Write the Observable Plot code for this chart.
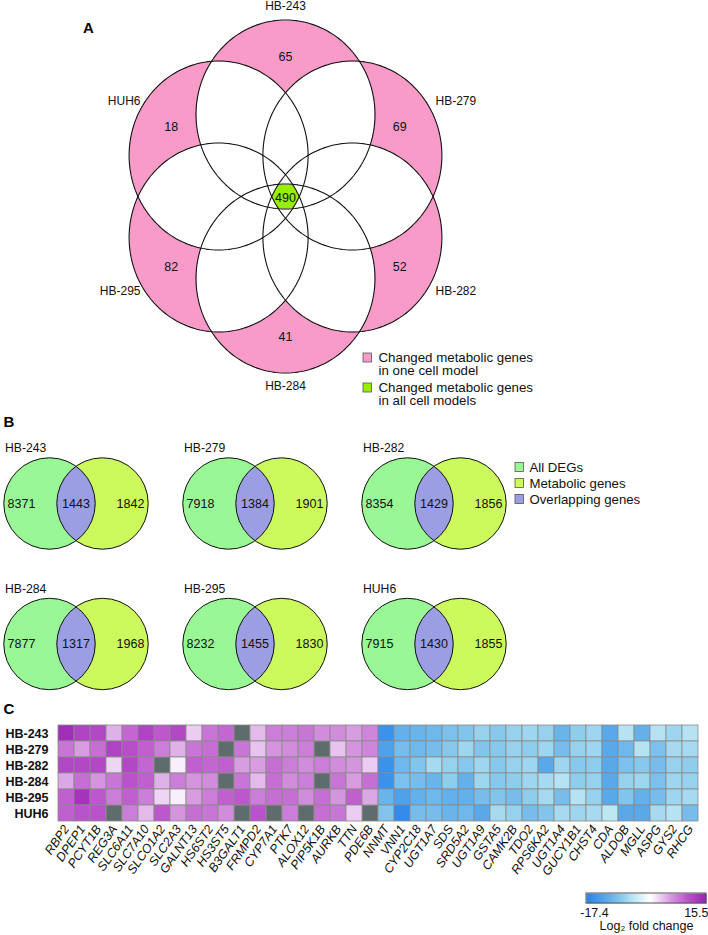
<!DOCTYPE html>
<html><head><meta charset="utf-8">
<script src="https://cdn.jsdelivr.net/npm/d3@7"></script>
<script src="https://cdn.jsdelivr.net/npm/@observablehq/plot@0.6"></script>
<style>
body{margin:0;background:#fff;}
#wrap{position:relative;width:708px;height:935px;overflow:hidden;background:#fff;}
#wrap > div{position:absolute;left:0;}
</style></head><body><div id="wrap"></div>
<script>
// ---------- DATA ----------
// Panel A: six-set Venn, models clockwise from top
const vennModels = ["HB-243", "HB-279", "HB-282", "HB-284", "HB-295", "HUH6"];
const uniqueCounts = [65, 69, 52, 41, 82, 18];
const sharedCount = 490;
const legendALabels = ["Changed metabolic genes\nin one cell model", "Changed metabolic genes\nin all cell models"];

// Panel B: two-set Venns per model
const bModels = ["HB-243", "HB-279", "HB-282", "HB-284", "HB-295", "HUH6"];
const degOnly = [8371, 7918, 8354, 7877, 8232, 7915];
const overlapCounts = [1443, 1384, 1429, 1317, 1455, 1430];
const metOnly = [1842, 1901, 1856, 1968, 1830, 1855];
const legendBLabels = ["All DEGs", "Metabolic genes", "Overlapping genes"];

// Panel C: heatmap of log2 fold change (null = not available)
const genes = ["RBP2","DPEP1","PCYT1B","REG3A","SLC6A11","SLC7A10","SLCO1A2","SLC2A3","GALNT13","HS6ST2",
  "HS3ST5","B3GALT1","FRMPD2","CYP7A1","PTK7","ALOX12","PIP5K1B","AURKB","TTN","PDE6B",
  "NNMT","VNN1","CYP2C18","UGT1A7","SDS","SRD5A2","UGT1A9","GSTA5","CAMK2B","TDO2",
  "RPS6KA2","UGT1A4","GUCY1B1","CHST4","CDA","ALDOB","MGLL","ASPG","GYS2","RHCG"];
const heatModels = ["HB-243", "HB-279", "HB-282", "HB-284", "HB-295", "HUH6"];
const fcHB243 = [14, 12, 11.5, 4.5, 9, 12, 10, 11.5, 3, 8, 9, null, 4, 7.5, 7.5, 8, 6.5, 6.5, 5.5, 7,
  -15.5, -11, -10.5, -10, -9, -8.5, -7, -8, -7, -6.5, -7, -10.5, -7.5, -6.5, -12, -5, -11, -5, -6.5, -5];
const fcHB279 = [8, 5.5, 8.5, 12, 11, 9.5, 7.5, 4.5, 8, 8.5, null, 8, 3.5, 6, 6.5, 7.5, null, 3.5, 6, 7,
  -13, -9.5, -10, -9.5, -8, -6.5, -8.5, -8, -7, -7.5, -6.5, -9.5, -7, -6.5, -12, -10, -5, -9, -6, -6];
const fcHB282 = [11.5, 11.5, 11.5, 2.5, 11.5, 9, null, 1, 9.5, 9, 9.5, 5.5, 5.5, 8.5, 7.5, 6.5, 7.5, 6.5, 6, 3,
  -15.5, -10, -8.5, -6, -7, -8, -6.5, -8, -7, -6.5, -12, -6.5, -8, -7.5, -12, -9, -8, -9.5, -7, -7.5];
const fcHB284 = [5, 8.5, 6, 8, 10.5, 9.5, 4.5, 7.5, 6, 6.5, null, 8, 4, 8.5, 6.5, 7.5, null, 8, 5.5, 8.5,
  -15.5, -9, -9.5, -10.5, -7.5, -11, -6.5, -8, -7.5, -6.5, -6, -5, -7.5, -7, -12, -7, -6.5, -9, -6.5, -7];
const fcHB295 = [9.5, 13.5, 10, 7.5, 9.5, 7.5, 2.5, 1, 5.5, 7.5, 9.5, 10, 7.5, 8.5, 8.5, 6.5, 8.5, 6, 9.5, 5,
  -10.5, -13, -11, -10, -11, -11, -9.5, -8.5, -9.5, -7.5, -6, -9.5, -5, -7, -12, -8.5, -11, -9.5, -6.5, -6];
const fcHUH6 = [9.5, 10.5, 10.5, null, 7.5, 4, 10, 6, 8.5, 8, 6.5, null, 10.5, null, 7.5, null, 8.5, 8, 3, null,
  -8.5, -16.5, -9.5, -9.5, -10.5, -10, -12, -6, -7, -9.5, -8.5, -6, -6.5, -6, -4.5, -12, -12, -6, -5, -9.5];
const log2fc = [fcHB243, fcHB279, fcHB282, fcHB284, fcHB295, fcHUH6];
const colorMin = -17.4, colorMax = 15.5;
const colorbarLabel = "Log\u2082 fold change";

// ---------- STYLE / LAYOUT ----------
const FONT = "'Liberation Sans', Arial, Helvetica, sans-serif";
const PINK = "#f99bc9", LIME = "#97ef00";
const BGREEN = "#9af795", BYELLOW = "#ccfa5c", BPURPLE = "#9b9ee2";
const NA_FILL = "#5f6c6c", CELL_STROKE = "#8a8a8a";
const colorScale = {
  type: "linear",
  domain: [colorMin, -12, -8, -4.5, 0, 3, 6, 10, colorMax],
  range: ["#2c84ea", "#5aa8e8", "#88c8ec", "#bce8f4", "#ffffff", "#ecccf2", "#d494de", "#bc58cc", "#9620b0"],
  interpolate: "rgb"
};

const wrap = document.getElementById("wrap");
function place(svg, top) { const d = document.createElement("div"); d.style.top = top + "px"; d.appendChild(svg); wrap.appendChild(d); }

// geometry of panel A flower (ellipses)
const cx0 = 285, cy0 = 196, dA = 82, kx = 0.942, rxA = 89.5, ryA = 94.5;
const ang = i => (-90 + 60 * i) * Math.PI / 180;
const circA = vennModels.map((m, i) => ({x: cx0 + dA * kx * Math.cos(ang(i)), y: cy0 + dA * Math.sin(ang(i))}));
const outlineA = circA.flatMap((c, i) => d3.range(0, 181).map(k => {
  const t = k / 180 * 2 * Math.PI; return {i, x: c.x + rxA * Math.cos(t), y: c.y + ryA * Math.sin(t)};
}));
// geometry of panel B
const rB = 45.7;
const vB = bModels.map((m, i) => { const col = i % 3, row = Math.floor(i / 3); const xl = 49 + 179 * col; return {xl, xr: xl + 53, y: 503 + 140.5 * row, col}; });
const circB = vB.flatMap(v => [{x: v.xl, y: v.y}, {x: v.xr, y: v.y}]);

function regionFill(x, y) {
  if (y < 420) {
    let n = 0;
    for (const c of circA) if (((x - c.x) / rxA) ** 2 + ((y - c.y) / ryA) ** 2 <= 1) n++;
    return n === 1 ? PINK : n === 6 ? LIME : "white";
  }
  for (const v of vB) {
    const inL = (x - v.xl) ** 2 + (y - v.y) ** 2 <= rB * rB;
    const inR = (x - v.xr) ** 2 + (y - v.y) ** 2 <= rB * rB;
    if (inL && inR) return BPURPLE;
    if (inL) return BGREEN;
    if (inR) return BYELLOW;
  }
  return "white";
}

const labA = vennModels.map((m, i) => ({m, c: Math.cos(ang(i)), s: Math.sin(ang(i))}));
const txt = {fontFamily: FONT, fontSize: 12.5, fill: "#111"};

const plotAB = Plot.plot({
  width: 708, height: 720, margin: 0,
  x: {domain: [0, 708], range: [0, 708], axis: null},
  y: {domain: [0, 720], range: [0, 720], axis: null},
  color: {type: "identity"},
  style: {background: "transparent", fontFamily: FONT},
  marks: [
    Plot.raster({x1: 0, x2: 708, y1: 0, y2: 720, width: 708, height: 720, fill: regionFill}),
    Plot.line(outlineA, {x: "x", y: "y", z: "i", stroke: "#111", strokeWidth: 1.1}),
    Plot.dot(circB, {x: "x", y: "y", r: rB, stroke: "#111", strokeWidth: 1, fill: "none"}),
    // panel letters
    Plot.text(["A"], {x: 88, y: 28, text: d => d, fontFamily: FONT, fontSize: 15, fontWeight: "bold"}),
    Plot.text(["B"], {x: 3, y: 422, text: d => d, textAnchor: "start", fontFamily: FONT, fontSize: 15, fontWeight: "bold"}),
    Plot.text(["C"], {x: 3, y: 709, text: d => d, textAnchor: "start", fontFamily: FONT, fontSize: 15, fontWeight: "bold"}),
    // panel A labels
    Plot.text(labA.filter(d => Math.abs(d.c) < 0.5), {x: d => cx0, y: d => cy0 + 190 * d.s, text: "m", ...txt, fontSize: 12}),
    Plot.text(labA.filter(d => d.c > 0.5), {x: d => cx0 + 150, y: d => cy0 + 190 * d.s, text: "m", textAnchor: "start", ...txt, fontSize: 12}),
    Plot.text(labA.filter(d => d.c < -0.5), {x: d => cx0 - 145, y: d => cy0 + 190 * d.s, text: "m", textAnchor: "end", ...txt, fontSize: 12}),
    Plot.text(uniqueCounts, {x: (d, i) => cx0 + 140 * kx * Math.cos(ang(i)), y: (d, i) => cy0 + 140 * Math.sin(ang(i)), text: d => String(d), ...txt}),
    Plot.text([sharedCount], {x: cx0, y: cy0 + 1, text: d => String(d), ...txt}),
    // panel A legend
    Plot.rect(legendALabels, {x1: 363, x2: 371.5, y1: (d, i) => 353 + 30 * i, y2: (d, i) => 362 + 30 * i, fill: (d, i) => [PINK, LIME][i], stroke: "#555", strokeWidth: 0.8}),
    Plot.text(legendALabels, {x: 378, y: (d, i) => 363.5 + 30 * i, text: d => d, textAnchor: "start", lineHeight: 1.0, ...txt, fontSize: 13.3}),
    // panel B titles and counts
    Plot.text(bModels, {x: (d, i) => vB[i].xl - 44.5, y: (d, i) => vB[i].y - 55, text: d => d, textAnchor: "start", ...txt, fontSize: 12.2}),
    Plot.text(degOnly, {x: (d, i) => vB[i].xl - 28, y: (d, i) => vB[i].y, text: d => String(d), ...txt}),
    Plot.text(overlapCounts, {x: (d, i) => (vB[i].xl + vB[i].xr) / 2, y: (d, i) => vB[i].y, text: d => String(d), ...txt}),
    Plot.text(metOnly, {x: (d, i) => vB[i].xr + 28, y: (d, i) => vB[i].y, text: d => String(d), ...txt}),
    // panel B legend
    Plot.rect(legendBLabels, {x1: 515, x2: 523.5, y1: (d, i) => 462.5 + 16 * i, y2: (d, i) => 471.5 + 16 * i, fill: (d, i) => [BGREEN, BYELLOW, BPURPLE][i], stroke: "#555", strokeWidth: 0.8}),
    Plot.text(legendBLabels, {x: 529, y: (d, i) => 467 + 16 * i, text: d => d, textAnchor: "start", ...txt, fontSize: 13.2})
  ]
});
place(plotAB, 0);

// ---------- PANEL C HEATMAP ----------
const cells = heatModels.flatMap((m, r) => genes.map((g, c) => ({model: m, gene: g, value: log2fc[r][c]})));
const heat = Plot.plot({
  width: 708, height: 185, marginLeft: 50, marginRight: 2, marginTop: 8, marginBottom: 77,
  x: {domain: genes, padding: 0, label: null},
  y: {domain: heatModels, padding: 0, label: null},
  color: colorScale,
  style: {background: "transparent", fontFamily: FONT},
  marks: [
    Plot.cell(cells.filter(d => d.value == null), {x: "gene", y: "model", fill: NA_FILL, stroke: CELL_STROKE, strokeWidth: 0.8}),
    Plot.cell(cells.filter(d => d.value != null), {x: "gene", y: "model", fill: "value", stroke: CELL_STROKE, strokeWidth: 0.8}),
    Plot.axisY({tickSize: 0, tickPadding: 2, fontWeight: "bold", fontSize: 12.5, fontFamily: FONT, fill: "#111"}),
    Plot.axisX({tickSize: 0, tickPadding: 3, tickRotate: -55, fontStyle: "italic", fontSize: 12.5, fontFamily: FONT, fill: "#111"})
  ]
});
place(heat, 715);

// ---------- COLORBAR ----------
const cbar = Plot.plot({
  width: 708, height: 50, marginLeft: 586, marginRight: 2, marginTop: 0, marginBottom: 0,
  x: {domain: [colorMin, colorMax], axis: null},
  y: {domain: [0, 50], range: [0, 50], axis: null},
  color: colorScale,
  style: {background: "transparent", fontFamily: FONT},
  marks: [
    Plot.raster({x1: colorMin, x2: colorMax, y1: 8, y2: 18, width: 120, height: 1, fill: (x, y) => x}),
    Plot.rect([colorMin], {x1: colorMin, x2: colorMax, y1: 8, y2: 18, stroke: "#555", strokeWidth: 1, fill: "none"}),
    Plot.text([colorMin], {x: d => d, y: 27, text: d => d.toFixed(1), dx: 8, ...txt}),
    Plot.text([colorMax], {x: d => d, y: 27, text: d => d.toFixed(1), dx: 2, textAnchor: "end", ...txt}),
    Plot.text([colorbarLabel], {x: (colorMin + colorMax) / 2, y: 40, text: d => d, ...txt})
  ]
});
place(cbar, 885);
</script></body></html>
